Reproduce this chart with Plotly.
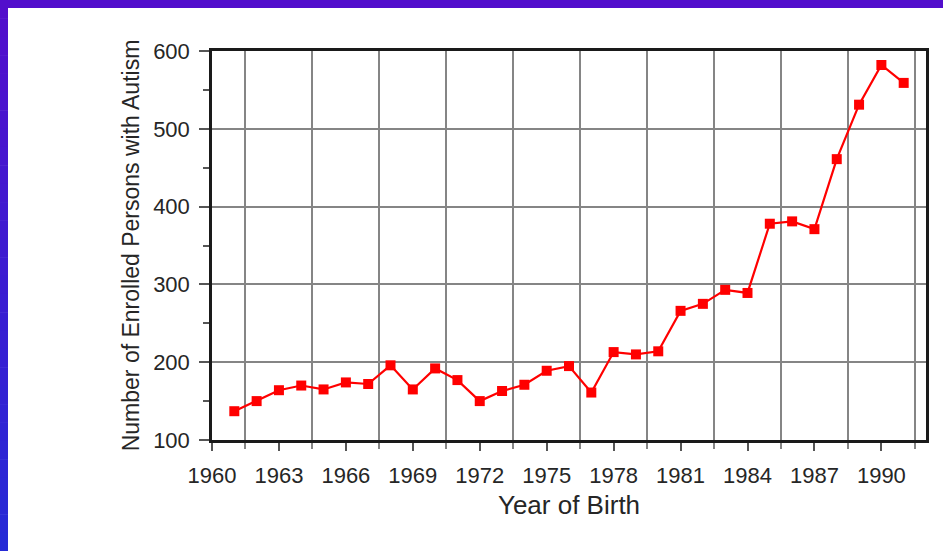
import plotly.graph_objects as go

years = list(range(1961, 1992))
enrolled = [137, 150, 164, 170, 165, 174, 172, 196, 165, 192,
            177, 150, 163, 171, 189, 195, 161, 213, 210, 214,
            266, 275, 293, 289, 378, 381, 371, 461, 531, 582, 559]
x_tick_vals = list(range(1960, 1991, 3))
x_tick_text = [str(v) for v in x_tick_vals]
y_tick_vals = [100, 200, 300, 400, 500, 600]

W, H = 943, 551
ML, MR, MT, MB = 212, 17, 51, 111
PW, PH = W - ML - MR, H - MT - MB

def px(xp):
    return (xp - ML) / PW

def py(yp):
    return (H - MB - yp) / PH

font_family = "Liberation Sans, Arial, sans-serif"

fig = go.Figure()
fig.add_trace(go.Scatter(
    x=years, y=enrolled, mode="lines+markers",
    line=dict(color="#ff0000", width=2.2),
    marker=dict(color="#ff0000", symbol="square", size=10),
    showlegend=False,
))

# purple/blue frame (top band + left gradient band)
shapes = []
shapes.append(dict(type="rect", xref="paper", yref="paper",
                   x0=px(0), x1=px(W), y0=py(8), y1=py(0),
                   fillcolor="rgb(82,14,204)", line=dict(width=0)))
n = 30
c0 = (82, 14, 204)
c1 = (38, 42, 214)
for i in range(n):
    t = i / (n - 1)
    col = tuple(round(c0[k] + (c1[k] - c0[k]) * t) for k in range(3))
    y_top = H * i / n
    y_bot = H * (i + 1) / n + 0.5
    shapes.append(dict(type="rect", xref="paper", yref="paper",
                       x0=px(0), x1=px(8), y0=py(y_bot), y1=py(y_top),
                       fillcolor="rgb(%d,%d,%d)" % col, line=dict(width=0)))

fig.update_layout(
    width=W, height=H,
    margin=dict(l=ML, r=MR, t=MT, b=MB),
    paper_bgcolor="white", plot_bgcolor="white",
    font=dict(family=font_family, color="#262626"),
    shapes=shapes,
    xaxis=dict(
        range=[1960, 1992],
        tickmode="array", tickvals=x_tick_vals, ticktext=x_tick_text,
        ticks="outside", ticklen=8, tickwidth=1.5, tickcolor="#555555",
        tickfont=dict(size=22, color="#262626"),
        ticklabelstandoff=6,
        showgrid=False, zeroline=False,
        showline=True, linecolor="#1a1a1a", linewidth=2.5, mirror=True,
        minor=dict(tick0=1961.5, dtick=3, showgrid=True, gridcolor="#858585",
                   gridwidth=1.5, ticks="outside", ticklen=6, tickcolor="#858585",
                   tickwidth=1.5),
        title=dict(text="Year of Birth", font=dict(size=26, color="#262626"), standoff=9),
    ),
    yaxis=dict(
        range=[100, 600],
        tickmode="array", tickvals=y_tick_vals,
        ticks="outside", ticklen=10, tickwidth=1.5, tickcolor="#555555",
        tickfont=dict(size=22, color="#262626"),
        ticklabelstandoff=5,
        showgrid=True, gridcolor="#858585", gridwidth=1.5, zeroline=False,
        showline=True, linecolor="#1a1a1a", linewidth=2.5, mirror=True,
        minor=dict(dtick=50, ticks="outside", ticklen=6, tickcolor="#555555",
                   tickwidth=1.5, showgrid=False),
        title=dict(text="Number of Enrolled Persons with Autism",
                   font=dict(size=23, color="#262626"), standoff=8),
    ),
)

fig.write_html("out.html",
               config={"displayModeBar": False},
               post_script="document.body.style.margin='0';document.body.style.padding='0';")
